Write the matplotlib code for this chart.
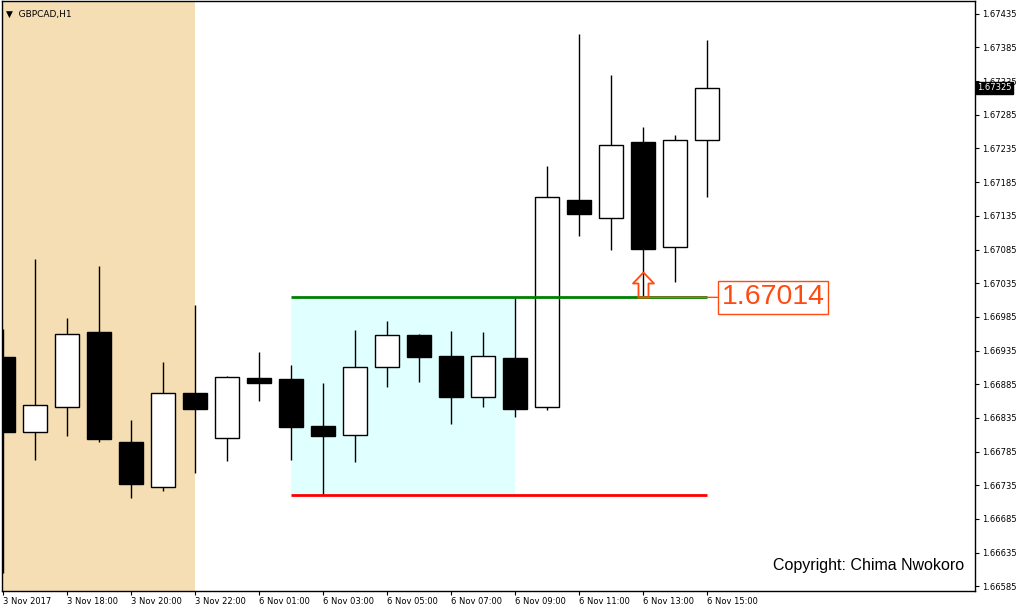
import matplotlib.pyplot as plt
from matplotlib.path import Path

# GBPCAD H1 candles, 3 Nov 16:00 -> 6 Nov 15:00
opens = [1.66925, 1.66814, 1.66851, 1.66962, 1.66799, 1.66732, 1.66872, 1.66805,
         1.66894, 1.66893, 1.66823, 1.66809, 1.66910, 1.66958, 1.66927, 1.66866,
         1.66924, 1.66851, 1.67159, 1.67132, 1.67245, 1.67089, 1.67248]
highs = [1.66967, 1.67071, 1.66983, 1.67061, 1.66832, 1.66918, 1.67003, 1.66897,
         1.66933, 1.66913, 1.66887, 1.66965, 1.66979, 1.66960, 1.66964, 1.66962,
         1.67013, 1.67209, 1.67405, 1.67344, 1.67267, 1.67255, 1.67396]
lows = [1.66604, 1.66772, 1.66808, 1.66799, 1.66716, 1.66726, 1.66753, 1.66771,
        1.66860, 1.66772, 1.66720, 1.66769, 1.66881, 1.66888, 1.66826, 1.66851,
        1.66836, 1.66847, 1.67105, 1.67084, 1.67016, 1.67037, 1.67163]
closes = [1.66814, 1.66854, 1.66960, 1.66803, 1.66737, 1.66872, 1.66848, 1.66896,
          1.66887, 1.66821, 1.66808, 1.66910, 1.66958, 1.66925, 1.66866, 1.66927,
          1.66848, 1.67163, 1.67138, 1.67240, 1.67086, 1.67248, 1.67325]

xtick_labels = ["3 Nov 2017", "3 Nov 18:00", "3 Nov 20:00", "3 Nov 22:00",
                "6 Nov 01:00", "6 Nov 03:00", "6 Nov 05:00", "6 Nov 07:00",
                "6 Nov 09:00", "6 Nov 11:00", "6 Nov 13:00", "6 Nov 15:00"]
yticks = [1.66585 + 0.0005 * k for k in range(18)]

range_high = 1.67014
range_low = 1.66720
last_price = 1.67325
session_end = 6          # shaded (Friday) session ends at this bar
box_start, box_end = 9, 16
line_end = 22
retest_bar = 20

orange = '#FF4A10'

fig = plt.figure(figsize=(10.19, 6.11), dpi=100)
ax = fig.add_axes([2 / 1019, 20 / 611, 973 / 1019, 590 / 611])

# background zones
ax.axvspan(-1, session_end, color='#F5DEB3', lw=0, zorder=0)
ax.fill_between([box_start, box_end], range_low, range_high,
                color='#E0FFFF', lw=0, zorder=1)

# candles
for i, (o, h, l, c) in enumerate(zip(opens, highs, lows, closes)):
    ax.vlines(i, l, h, color='black', lw=1, zorder=2)
    ax.bar(i, abs(c - o), bottom=min(o, c), width=0.75,
           color='black' if c < o else 'white', edgecolor='black', lw=1, zorder=3)

# range lines
ax.hlines(range_high, box_start, line_end, color='#008000', lw=2, zorder=4)
ax.hlines(range_low, box_start, line_end, color='#FF0000', lw=2, zorder=4)

# retest arrow
arrow = Path([(-0.2, 0), (0.2, 0), (0.2, 0.56), (0.42, 0.56), (0, 1),
              (-0.42, 0.56), (-0.2, 0.56), (-0.2, 0)], closed=True)
ax.plot(retest_bar, range_high, marker=arrow, markersize=36,
        markerfacecolor='none', markeredgecolor=orange, markeredgewidth=1.3, zorder=5)

ax.annotate(f"{range_high:.5f}", xy=(retest_bar - 0.15, range_high),
            xytext=(line_end + 0.45, range_high), textcoords='data',
            ha='left', va='center', fontsize=20.5, color=orange,
            family='Liberation Sans',
            bbox=dict(boxstyle='square,pad=0.12', fc='white', ec=orange, lw=1),
            arrowprops=dict(arrowstyle='-', color=orange, lw=1,
                            shrinkA=0, shrinkB=0), zorder=5)

# axes
ax.set_xlim(-1 / 32, 972 / 32)
ax.set_ylim(1.66578, 1.67454)
ax.yaxis.tick_right()
ax.set_yticks(yticks)
ax.set_yticklabels([f"{v:.5f}" for v in yticks])
ax.set_xticks(range(0, len(opens), 2))
ax.set_xticklabels(xtick_labels, ha='left')
ax.tick_params(axis='both', labelsize=6, length=3, width=0.8, pad=2)
ax.tick_params(axis='x', pad=1)
for s in ax.spines.values():
    s.set_color('black')
    s.set_linewidth(1)

# last price tag
ax.text(1.002, last_price, f"{last_price:.5f}", transform=ax.get_yaxis_transform(),
        ha='left', va='center', fontsize=6, color='white', zorder=10, clip_on=False,
        bbox=dict(boxstyle='square,pad=0.15', fc='black', ec='black'))

ax.text(0.004, 0.985, "\u25BC  GBPCAD,H1", transform=ax.transAxes, fontsize=6.5,
        ha='left', va='top')
ax.text(0.989, 0.03, "Copyright: Chima Nwokoro", transform=ax.transAxes,
        fontsize=11.5, family='Liberation Sans', ha='right', va='bottom')

fig.savefig('out.png', dpi=100)
